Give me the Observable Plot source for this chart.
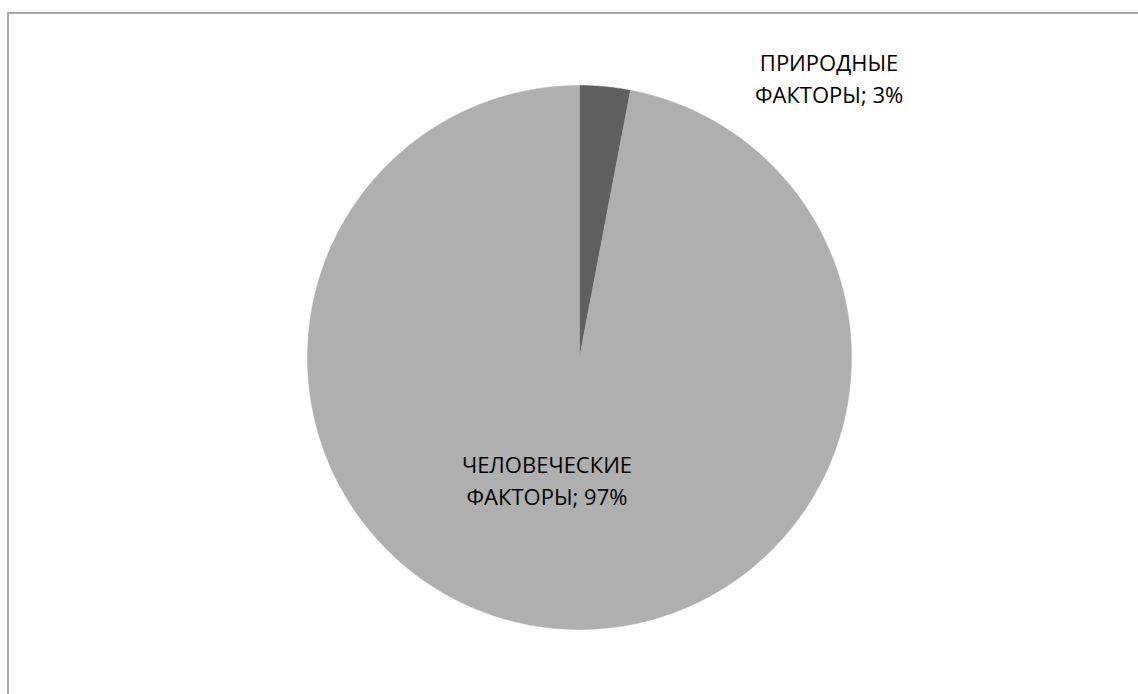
<!DOCTYPE html>
<html><head><meta charset="utf-8">
<script src="https://cdn.jsdelivr.net/npm/d3@7"></script>
<script src="https://cdn.jsdelivr.net/npm/@observablehq/plot@0.6"></script>
<style>
html,body{margin:0;padding:0;background:#fff;overflow:hidden;}
#wrap{position:relative;width:1138px;height:694px;}
#chart{position:absolute;left:0;top:0;}
#frame{position:absolute;left:7px;top:12px;width:1300px;height:900px;border-left:2px solid #a9a9a9;border-top:2px solid #a9a9a9;pointer-events:none;}
</style></head><body>
<div id="wrap"><div id="chart"></div><div id="frame"></div></div>
<script>
// Data
const categories = ["ПРИРОДНЫЕ ФАКТОРЫ", "ЧЕЛОВЕЧЕСКИЕ ФАКТОРЫ"];
const values = [3, 97];
const labelLines = [["ПРИРОДНЫЕ", "ФАКТОРЫ; 3%"], ["ЧЕЛОВЕЧЕСКИЕ", "ФАКТОРЫ; 97%"]];
const colors = ["#5f5f5f", "#afafaf"];

// Layout (pixels)
const W = 1138, H = 694;
const cx = 579, cy = 357, R = 272;

const total = d3.sum(values);
const slices = [];
let acc = 0;
values.forEach((v, i) => {
  const a0 = acc / total * 2 * Math.PI;
  acc += v;
  const a1 = acc / total * 2 * Math.PI;
  slices.push({category: categories[i], value: v, a0, a1, mid: (a0 + a1) / 2,
    label: labelLines[i].join("\n"), color: colors[i]});
});

// polygon points for each slice (clockwise from 12 o'clock), y up
const pts = [];
slices.forEach(s => {
  pts.push({category: s.category, x: 0, y: 0});
  const n = Math.max(4, Math.ceil((s.a1 - s.a0) / (Math.PI / 720)));
  for (let k = 0; k <= n; k++) {
    const a = s.a0 + (s.a1 - s.a0) * k / n;
    pts.push({category: s.category, x: R * Math.sin(a), y: R * Math.cos(a)});
  }
  pts.push({category: s.category, x: 0, y: 0});
});

const pos = (s, f) => ({x: f * R * Math.sin(s.mid), y: f * R * Math.cos(s.mid), label: s.label});
const small = [pos(slices[0], 1)];
const big = [pos(slices[1], 0.45)];

const chart = Plot.plot({
  width: W, height: H,
  margin: 0,
  x: {domain: [-cx, W - cx], range: [0, W], axis: null},
  y: {domain: [-(H - cy), cy], range: [H, 0], axis: null},
  color: {domain: categories, range: colors},
  style: {fontFamily: "'Open Sans', sans-serif", background: "white"},
  marks: [
    Plot.line(pts, {x: "x", y: "y", z: "category", fill: "category", stroke: "category", strokeWidth: 0.5, curve: "linear"}),
    Plot.text(small, {x: "x", y: "y", text: "label", dx: 224, dy: -10, fontSize: 22, lineHeight: 1.45, fill: "#000", textAnchor: "middle", lineAnchor: "middle"}),
    Plot.text(big, {x: "x", y: "y", text: "label", dx: -21, dy: -1, fontSize: 22, lineHeight: 1.45, fill: "#000", textAnchor: "middle", lineAnchor: "middle"})
  ]
});
document.getElementById("chart").appendChild(chart);
</script>
</body></html>
